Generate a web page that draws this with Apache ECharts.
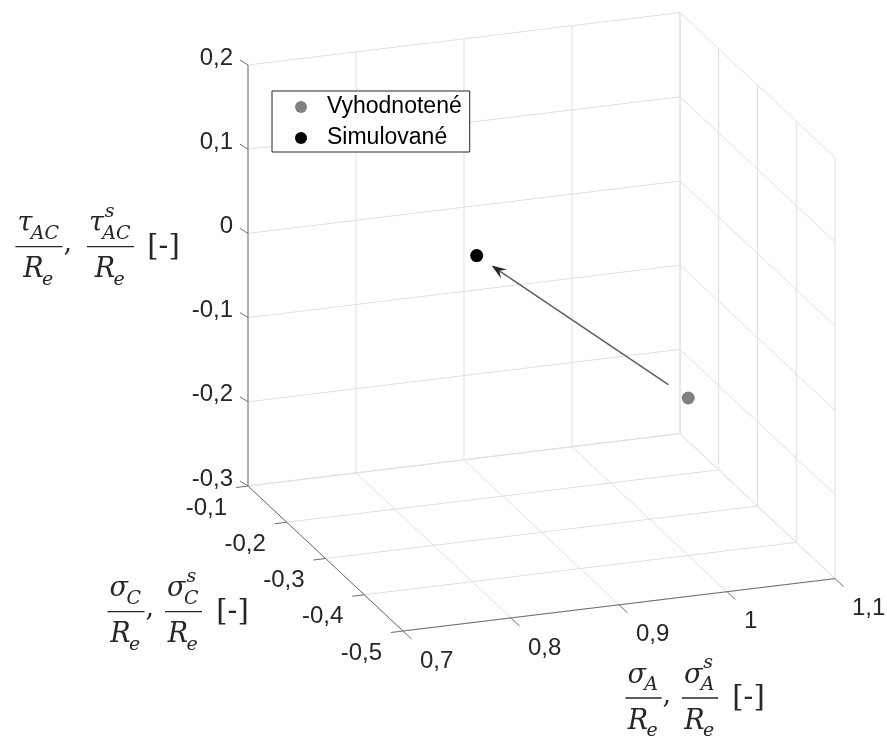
<!DOCTYPE html>
<html>
<head>
<meta charset="utf-8">
<script src="https://cdn.jsdelivr.net/npm/echarts@6/dist/echarts.min.js"></script>
<style>
  html, body { margin: 0; padding: 0; background: #fff; }
  #chart { width: 887px; height: 737px; }
</style>
</head>
<body>
<div id="chart"></div>
<script>
// Axis ranges, ticks and tick labels (decimal comma)
const rangeA = [0.7, 1.1];
const rangeC = [-0.5, -0.1];
const rangeT = [-0.3, 0.2];
const ticksA = [0.7, 0.8, 0.9, 1.0, 1.1];
const ticksC = [-0.5, -0.4, -0.3, -0.2, -0.1];
const ticksT = [-0.3, -0.2, -0.1, 0, 0.1, 0.2];
const tickLabelsA = ['0,7', '0,8', '0,9', '1', '1,1'];
const tickLabelsC = ['-0,5', '-0,4', '-0,3', '-0,2', '-0,1'];
const tickLabelsT = ['-0,3', '-0,2', '-0,1', '0', '0,1', '0,2'];

// Series names and values (sigma_A/Re, sigma_C/Re, tau_AC/Re)
const seriesNames = ['Vyhodnotené', 'Simulované'];
const evalSigmaA = [1.0];
const evalSigmaC = [-0.4];
const evalTau = [-0.113];
const simSigmaA = [0.84];
const simSigmaC = [-0.3];
const simTau = [0.038];

// Oblique view of the axes box: screen corner of (minA, minC, minT) and the three edge vectors
const VIEW = { ox: 403, oy: 631, ea: [432, -52.4], ec: [-155, -145], et: [0, -421] };

const TEXT_COLOR = '#262626';
const GRID_COLOR = '#e0e0e0';
const AXIS_COLOR = '#6e6e6e';
const TICK_FONT = '24px "Liberation Sans"';

const lin = (echarts.number && echarts.number.linearMap) ||
  function (v, d, r) { return r[0] + (v - d[0]) / (d[1] - d[0]) * (r[1] - r[0]); };

function project(a, c, t) {
  const fa = lin(a, rangeA, [0, 1]);
  const fc = lin(c, rangeC, [0, 1]);
  const ft = lin(t, rangeT, [0, 1]);
  return [
    VIEW.ox + fa * VIEW.ea[0] + fc * VIEW.ec[0] + ft * VIEW.et[0],
    VIEW.oy + fa * VIEW.ea[1] + fc * VIEW.ec[1] + ft * VIEW.et[1]
  ];
}

function seg(p, q, stroke, width) {
  return { type: 'line', silent: true,
    shape: { x1: p[0], y1: p[1], x2: q[0], y2: q[1] },
    style: { stroke: stroke, lineWidth: width } };
}

function label(text, x, y, align) {
  return { type: 'text', silent: true, x: x, y: y,
    style: { text: text, font: TICK_FONT, fill: TEXT_COLOR,
      textAlign: align, textVerticalAlign: 'middle' } };
}

// Box walls, floor grid, the three axes with ticks and tick labels
function renderFrame(params, api) {
  const out = [];
  const [a0, a1] = rangeA, [c0, c1] = rangeC, [t0, t1] = rangeT;
  // back wall (C = max)
  ticksT.forEach(t => out.push(seg(project(a0, c1, t), project(a1, c1, t), GRID_COLOR, 1)));
  ticksA.forEach(a => out.push(seg(project(a, c1, t0), project(a, c1, t1), GRID_COLOR, 1)));
  // side wall (A = max)
  ticksT.forEach(t => out.push(seg(project(a1, c0, t), project(a1, c1, t), GRID_COLOR, 1)));
  ticksC.forEach(c => out.push(seg(project(a1, c, t0), project(a1, c, t1), GRID_COLOR, 1)));
  // floor (T = min)
  ticksA.forEach(a => out.push(seg(project(a, c0, t0), project(a, c1, t0), GRID_COLOR, 1)));
  ticksC.forEach(c => out.push(seg(project(a0, c, t0), project(a1, c, t0), GRID_COLOR, 1)));

  // axis lines
  out.push(seg(project(a0, c0, t0), project(a1, c0, t0), AXIS_COLOR, 1));
  out.push(seg(project(a0, c0, t0), project(a0, c1, t0), AXIS_COLOR, 1));
  out.push(seg(project(a0, c1, t0), project(a0, c1, t1), AXIS_COLOR, 1));

  // sigma_A axis: ticks point away from the box, labels below-right
  ticksA.forEach((a, i) => {
    const p = project(a, c0, t0);
    out.push(seg(p, [p[0] + 8.5, p[1] + 8], AXIS_COLOR, 1));
    out.push(label(tickLabelsA[i], p[0] + 17, p[1] + 30, 'left'));
  });
  // sigma_C axis
  ticksC.forEach((c, i) => {
    const p = project(a0, c, t0);
    out.push(seg(p, [p[0] - 12, p[1] + 1.5], AXIS_COLOR, 1));
    out.push(label(tickLabelsC[i], p[0] - 21, p[1] + 22, 'right'));
  });
  // tau axis
  ticksT.forEach((t, i) => {
    const p = project(a0, c1, t);
    out.push(seg(p, [p[0] - 8, p[1] - 5], AXIS_COLOR, 1));
    out.push(label(tickLabelsT[i], p[0] - 15, p[1] - 7, 'right'));
  });
  return { type: 'group', children: out };
}

function renderDot(params, api) {
  const p = project(api.value(0), api.value(1), api.value(2));
  return { type: 'circle', shape: { cx: p[0], cy: p[1], r: 6.5 },
    style: { fill: api.visual('color') } };
}

// Arrow from the evaluated state to the simulated one
function renderArrow(params, api) {
  const p = project(api.value(0), api.value(1), api.value(2));
  const q = project(api.value(3), api.value(4), api.value(5));
  const dx = q[0] - p[0], dy = q[1] - p[1];
  const len = Math.hypot(dx, dy);
  const u = [dx / len, dy / len], n = [-u[1], u[0]];
  const s = [p[0] + u[0] * 24, p[1] + u[1] * 24];
  const tip = [q[0] - u[0] * 18, q[1] - u[1] * 18];
  const L = 15, W = 5.5;
  const back = [tip[0] - u[0] * L, tip[1] - u[1] * L];
  const notch = [tip[0] - u[0] * L * 0.62, tip[1] - u[1] * L * 0.62];
  return { type: 'group', children: [
    { type: 'line', shape: { x1: s[0], y1: s[1], x2: notch[0], y2: notch[1] },
      style: { stroke: '#5a5a5a', lineWidth: 1.4 } },
    { type: 'polygon', shape: { points: [tip,
        [back[0] + n[0] * W, back[1] + n[1] * W], notch,
        [back[0] - n[0] * W, back[1] - n[1] * W]] },
      style: { fill: '#262626' } }
  ] };
}

// ---- math axis titles (fractions) ----
const measureCtx = document.createElement('canvas').getContext('2d');
function textWidth(str, font) { measureCtx.font = font; return measureCtx.measureText(str).width; }
function fontSpec(size, italic) { return (italic ? 'italic ' : '') + size + 'px "DejaVu Serif"'; }
const M = { size: 27, sub: 19, numBase: -13, denBase: 33, subDrop: 7, supRise: 15, bracket: 29 };

function glyph(str, x, baseline, size, italic, align) {
  return { type: 'text', silent: true, x: x, y: baseline - 0.35 * size,
    style: { text: str, font: fontSpec(size, italic), fill: TEXT_COLOR,
      textAlign: align || 'left', textVerticalAlign: 'middle' } };
}

function term(t, baseline) {
  const wb = textWidth(t.base, fontSpec(M.size, true));
  const wsub = t.sub ? textWidth(t.sub, fontSpec(M.sub, true)) : 0;
  const wsup = t.sup ? textWidth(t.sup, fontSpec(M.sub, true)) : 0;
  return {
    width: wb + Math.max(wsub, wsup),
    build(x) {
      const els = [glyph(t.base, x, baseline, M.size, true)];
      if (t.sub) els.push(glyph(t.sub, x + wb - 1.5, baseline + M.subDrop, M.sub, true));
      if (t.sup) els.push(glyph(t.sup, x + wb + 1, baseline - M.supRise, M.sub, true));
      return els;
    }
  };
}

function fraction(cx, barY, num, den) {
  const n = term(num, barY + M.numBase), d = term(den, barY + M.denBase);
  const w = Math.max(n.width, d.width) + 4;
  return { right: cx + w / 2, elements: n.build(cx - n.width / 2).concat(d.build(cx - d.width / 2), [
    { type: 'line', silent: true, shape: { x1: cx - w / 2, y1: barY, x2: cx + w / 2, y2: barY },
      style: { stroke: TEXT_COLOR, lineWidth: 1.3 } }]) };
}

function axisTitle(barY, c1, c2, cb, base, sub) {
  const den = { base: 'R', sub: 'e' };
  const f1 = fraction(c1, barY, { base: base, sub: sub }, den);
  const f2 = fraction(c2, barY, { base: base, sub: sub, sup: 's' }, den);
  return f1.elements.concat(f2.elements, [
    glyph(',', f1.right + 1, barY + 7, M.size, false),
    glyph('[-]', cb, barY + 11, M.bracket, false, 'center')
  ]);
}

const titles = [].concat(
  axisTitle(246.7, 39, 110.5, 163.5, 'τ', 'AC'),
  axisTitle(611.7, 126, 183.5, 232.5, 'σ', 'C'),
  axisTitle(698, 643.5, 700, 748.5, 'σ', 'A')
);

const chart = echarts.init(document.getElementById('chart'), null, { renderer: 'canvas' });
chart.setOption({
  animation: false,
  backgroundColor: '#fff',
  legend: {
    data: seriesNames.map(n => ({ name: n, icon: 'circle' })),
    orient: 'vertical', left: 272, top: 91,
    padding: [4, 8, 2, 23], itemGap: 7, itemWidth: 12, itemHeight: 12,
    backgroundColor: '#fff', borderColor: '#262626', borderWidth: 1, borderRadius: 0,
    selectedMode: false,
    textStyle: { fontFamily: 'Liberation Sans', fontSize: 23, color: '#000', lineHeight: 24, padding: [0, 0, 0, 15] }
  },
  graphic: { elements: titles },
  series: [
    { type: 'custom', name: 'frame', coordinateSystem: 'none', silent: true, z: 1,
      data: [0], renderItem: renderFrame },
    { type: 'custom', name: 'arrow', coordinateSystem: 'none', silent: true, z: 3,
      data: [[evalSigmaA[0], evalSigmaC[0], evalTau[0], simSigmaA[0], simSigmaC[0], simTau[0]]],
      renderItem: renderArrow },
    { type: 'custom', name: seriesNames[0], coordinateSystem: 'none', z: 4,
      itemStyle: { color: '#808080' },
      data: evalSigmaA.map((a, i) => [a, evalSigmaC[i], evalTau[i]]), renderItem: renderDot },
    { type: 'custom', name: seriesNames[1], coordinateSystem: 'none', z: 4,
      itemStyle: { color: '#000000' },
      data: simSigmaA.map((a, i) => [a, simSigmaC[i], simTau[i]]), renderItem: renderDot }
  ]
});
</script>
</body>
</html>
